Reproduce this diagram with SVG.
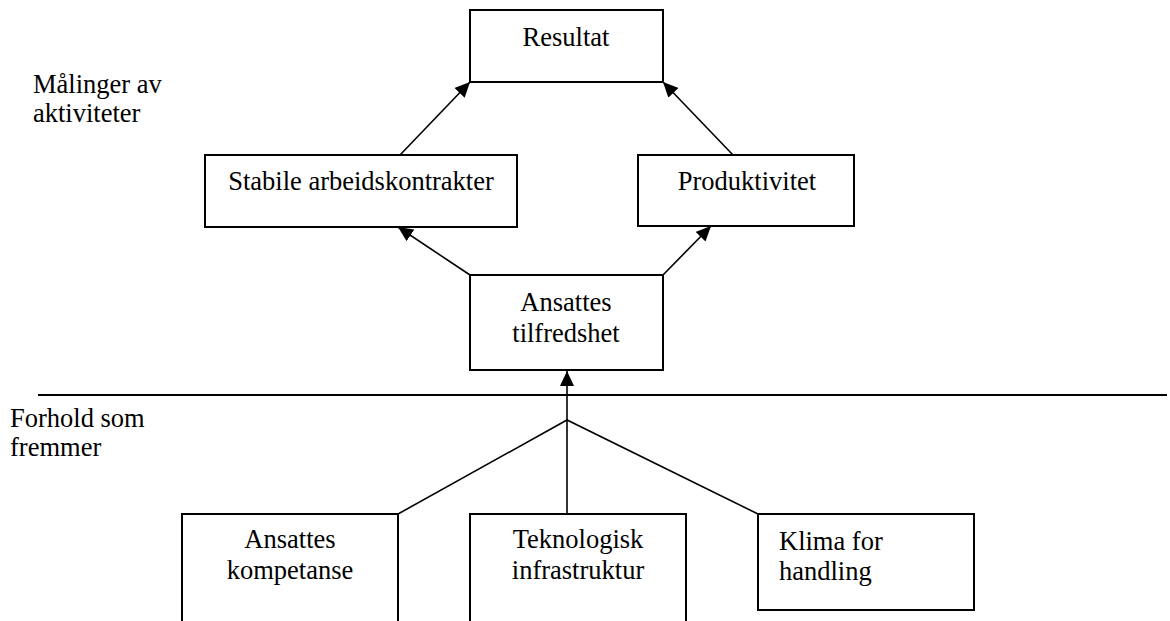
<svg xmlns="http://www.w3.org/2000/svg" width="1170" height="621" viewBox="0 0 1170 621">
  <style>
    .box { fill: #ffffff; stroke: #000000; stroke-width: 2; }
    .edge { fill: none; stroke: #000000; stroke-width: 1.6; }
    .lbl { font-family: "Liberation Serif", "Times New Roman", serif; font-size: 26.5px; fill: #000000; }
    .mid { text-anchor: middle; }
  </style>
  <defs>
    <marker id="arrow" markerUnits="userSpaceOnUse" markerWidth="16" markerHeight="14" refX="15" refY="7" orient="auto">
      <path d="M0,0 L15,7 L0,14 Z" fill="#000000"/>
    </marker>
  </defs>
  <rect width="1170" height="621" fill="#ffffff"/>

  <!-- side labels -->
  <g id="label-maalinger">
    <text class="lbl" x="33" y="93">Målinger av</text>
    <text class="lbl" x="33" y="122">aktiviteter</text>
  </g>
  <g id="label-forhold">
    <text class="lbl" x="10" y="427">Forhold som</text>
    <text class="lbl" x="10" y="456">fremmer</text>
  </g>

  <!-- divider between measures and drivers -->
  <line x1="38" y1="395" x2="1167" y2="395" stroke="#000000" stroke-width="2"/>

  <!-- connectors -->
  <g id="connectors">
    <line class="edge" x1="400" y1="155" x2="470" y2="82" marker-end="url(#arrow)"/>
    <line class="edge" x1="733" y1="155" x2="663" y2="82" marker-end="url(#arrow)"/>
    <line class="edge" x1="470" y1="275" x2="398" y2="227" marker-end="url(#arrow)"/>
    <line class="edge" x1="663" y1="275" x2="711" y2="226" marker-end="url(#arrow)"/>
    <line class="edge" x1="567" y1="514" x2="567" y2="371" marker-end="url(#arrow)"/>
    <polyline class="edge" points="398,514 567,420 758,514"/>
  </g>

  <g id="node-resultat">
    <rect class="box" x="470" y="10" width="193" height="72"/>
    <text class="lbl mid" x="566" y="46">Resultat</text>
  </g>
  <g id="node-stabile">
    <rect class="box" x="205" y="155" width="312" height="72"/>
    <text class="lbl mid" x="361" y="190">Stabile arbeidskontrakter</text>
  </g>
  <g id="node-produktivitet">
    <rect class="box" x="638" y="155" width="216" height="71"/>
    <text class="lbl mid" x="747" y="190">Produktivitet</text>
  </g>
  <g id="node-tilfredshet">
    <rect class="box" x="470" y="275" width="193" height="95"/>
    <text class="lbl mid" x="566" y="311">Ansattes</text>
    <text class="lbl mid" x="566" y="342">tilfredshet</text>
  </g>
  <g id="node-kompetanse">
    <path class="box" d="M182,625 V514 H398 V625"/>
    <text class="lbl mid" x="290" y="548">Ansattes</text>
    <text class="lbl mid" x="290" y="579">kompetanse</text>
  </g>
  <g id="node-teknologisk">
    <path class="box" d="M470,625 V514 H686 V625"/>
    <text class="lbl mid" x="578" y="548">Teknologisk</text>
    <text class="lbl mid" x="578" y="579">infrastruktur</text>
  </g>
  <g id="node-klima">
    <rect class="box" x="758" y="514" width="216" height="96"/>
    <text class="lbl" x="779" y="550">Klima for</text>
    <text class="lbl" x="779" y="580">handling</text>
  </g>
</svg>
